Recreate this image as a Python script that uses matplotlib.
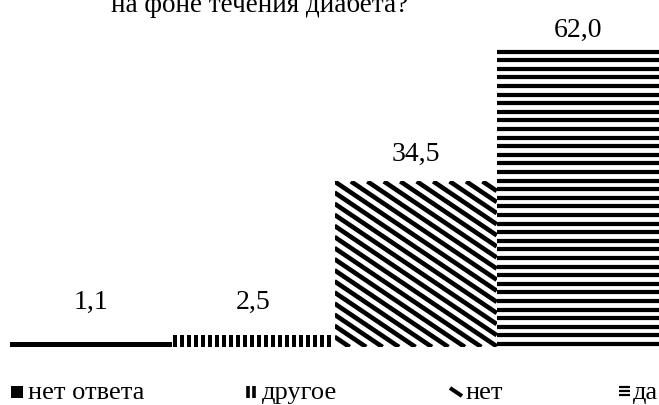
import matplotlib
matplotlib.use("Agg")
import matplotlib.pyplot as plt
import numpy as np
from matplotlib.patches import Rectangle
from matplotlib.collections import LineCollection
from matplotlib.transforms import IdentityTransform

# --- data -------------------------------------------------------------
categories = ["нет ответа", "другое", "нет", "да"]
values = [1.1, 2.5, 34.5, 62.0]
value_labels = ["1,1", "2,5", "34,5", "62,0"]
title_tail = "на фоне течения диабета?"

# --- figure setup -----------------------------------------------------
DPI = 100
W, H = 659, 406
FONT = "Liberation Serif"

fig = plt.figure(figsize=(W / DPI, H / DPI), dpi=DPI)
fig.patch.set_facecolor("white")

base_px = 348          # baseline, pixels from the top
px_per_unit = 4.8
ax = fig.add_axes([10 / W, (H - base_px) / H, (W - 10) / W, base_px / H])
ax.set_xlim(-0.5, 3.5)
ax.set_ylim(0, base_px / px_per_unit)
ax.axis("off")

x = np.arange(len(categories))
face = ["black", "white", "white", "white"]
bars = ax.bar(x, values, width=1.0, color=face, edgecolor="none", linewidth=0)


def clip_segment(p, q, bbox):
    """Liang-Barsky clipping of segment p->q to an axis-aligned box."""
    x0, y0, x1, y1 = bbox
    dx, dy = q[0] - p[0], q[1] - p[1]
    t0, t1 = 0.0, 1.0
    for pk, qk in ((-dx, p[0] - x0), (dx, x1 - p[0]),
                   (-dy, p[1] - y0), (dy, y1 - p[1])):
        if abs(pk) < 1e-12:
            if qk < 0:
                return None
            continue
        t = qk / pk
        if pk < 0:
            t0 = max(t0, t)
        else:
            t1 = min(t1, t)
        if t0 > t1:
            return None
    return [(p[0] + t0 * dx, p[1] + t0 * dy), (p[0] + t1 * dx, p[1] + t1 * dy)]


def stripes(target, bbox, angle, period, width, anchor):
    """Fill a pixel bbox with parallel black stripes.

    angle: stripe direction in degrees (display coords, y up)
    anchor: a pixel point that a stripe centre passes through
    """
    x0, y0, x1, y1 = bbox
    a = np.deg2rad(angle)
    d = np.array([np.cos(a), np.sin(a)])
    n = np.array([-d[1], d[0]])
    corners = np.array([[x0, y0], [x0, y1], [x1, y0], [x1, y1]])
    proj = (corners - anchor) @ n
    k0 = int(np.floor(proj.min() / period)) - 1
    k1 = int(np.ceil(proj.max() / period)) + 1
    L = np.hypot(x1 - x0, y1 - y0) + 20
    c = np.array([(x0 + x1) / 2, (y0 + y1) / 2])
    segs = []
    for k in range(k0, k1 + 1):
        p = anchor + n * (k * period)
        p = p + d * ((c - p) @ d)
        seg = clip_segment(p - d * L, p + d * L, bbox)
        if seg is not None:
            segs.append(seg)
    lc = LineCollection(segs, colors="black", linewidths=width * 72 / DPI,
                        transform=IdentityTransform(), capstyle="butt",
                        antialiased=True)
    target.add_artist(lc)
    return lc


# pattern per category: (angle, period px, stripe width px)
patterns = [None, (90, 7.0, 4.0), (-34, 9.2, 4.6), (0, 8.6, 4.2)]

fig.canvas.draw()
for bar, pat in zip(bars, patterns):
    if pat is None:
        continue
    bb = bar.get_window_extent()
    angle, period, width = pat
    box = (bb.x0, bb.y0, bb.x1, bb.y1)
    if angle == 0:
        anchor = np.array([bb.x0, bb.y1 - width / 2])
    elif angle == 90:
        anchor = np.array([bb.x0 + 3, bb.y0])
    else:
        anchor = np.array([bb.x0, bb.y1])
    lc = stripes(fig, box, angle, period, width, anchor)
    # wide strokes overhang the box edge; trim them to the bar
    lc.set_clip_box(bb)
    lc.set_clip_on(True)

# value labels above the bars (kept inside the plotting area)
for xi, v, lab in zip(x, values, value_labels):
    top_px = v * px_per_unit
    centre_px = min(max(top_px + 28, 46), base_px - 30)
    ax.annotate(lab, xy=(xi, 0), xytext=(0, centre_px * 72 / DPI),
                textcoords="offset points", ha="center", va="center",
                fontsize=20, family=FONT, color="black")

# title (its first line lies above the visible area)
fig.text(260 / W, 1 - 12 / H, title_tail, ha="center", va="baseline",
         fontsize=19.5, family=FONT, color="black")

# legend: small patterned squares followed by the category names
legend_x = [11, 246, 450, 619]
legend_w = [12, 10, 12, 11]
text_x = [28, 262, 465, 633]
legend_pat = [None, (90, 6.0, 3.6), (-34, 14.0, 4.0), (0, 4.0, 2.2)]
sq = 12
ly = H - 399          # bottom of the legend squares, display coords
for lx, lw, tx, name, pat in zip(legend_x, legend_w, text_x, categories, legend_pat):
    box = (lx, ly, lx + lw, ly + sq)
    if pat is None:
        fig.add_artist(Rectangle((lx, ly), lw, sq, transform=IdentityTransform(),
                                 facecolor="black", edgecolor="none"))
    else:
        angle, period, width = pat
        if angle == 0:
            anchor = np.array([lx, ly + sq - width / 2])
        elif angle == 90:
            anchor = np.array([lx + width / 2, ly])
        else:
            anchor = np.array([lx + lw / 2, ly + sq / 2])
        stripes(fig, box, angle, period, width, anchor)
    fig.text(tx / W, ly / H, name, ha="left", va="baseline",
             fontsize=19, family=FONT, color="black")

fig.savefig("out.png", dpi=DPI, facecolor="white")
